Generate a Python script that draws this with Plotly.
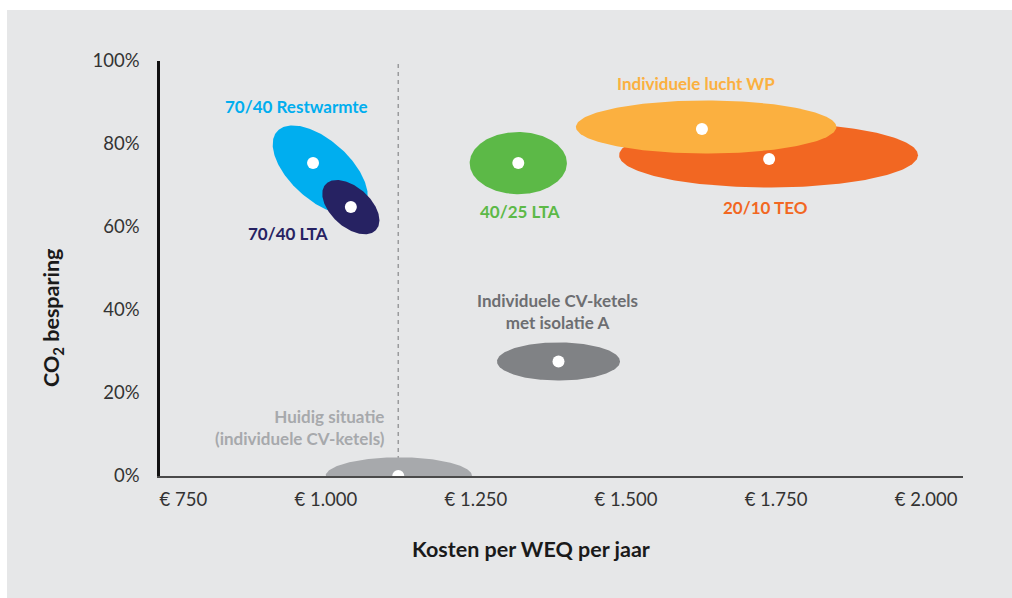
import numpy as np
import plotly.graph_objects as go

# ---------------- data ----------------
names = ["Huidig situatie", "Individuele CV-ketels met isolatie A", "40/25 LTA",
         "20/10 TEO", "Individuele lucht WP", "70/40 Restwarmte", "70/40 LTA"]
dot_cost = [1067, 1334, 1267, 1685, 1573, 925, 988]
dot_co2 = [0.0, 0.276, 0.754, 0.764, 0.836, 0.754, 0.648]
ell_cost = [1068, 1334, 1267, 1684, 1580, 937, 988]
ell_co2 = [0.0, 0.276, 0.754, 0.773, 0.841, 0.737, 0.648]
spread_cost = [122, 102.5, 81, 249, 217, 96.7, 56.7]
spread_co2 = [0.045, 0.046, 0.075, 0.078, 0.064, 0.072, 0.048]
tilt_deg = [0, 0, 0, 0, 0, -42, -42]
colors = ["#a7a9ac", "#808285", "#5cb947", "#f26722", "#fbb040", "#00aeef", "#262262"]

x_tickvals = [750, 1000, 1250, 1500, 1750, 2000]
x_ticktext = ["€ 750", "€ 1.000", "€ 1.250", "€ 1.500", "€ 1.750", "€ 2.000"]
y_tickvals = [0, 0.2, 0.4, 0.6, 0.8, 1.0]
reference_cost = dot_cost[0]

# ---------------- layout constants ----------------
OFF = 0                       # page body margin (removed via post_script)
W, H = 1012 - OFF, 598 - OFF
ML, MR, MT, MB = 160 - OFF, 49, 61 - OFF, 122
PW, PH = W - ML - MR, H - MT - MB
X_RANGE = [670, 2008]
Y_RANGE = [0, 1.0]
PX_X = PW / (X_RANGE[1] - X_RANGE[0])
PX_Y = PH / (Y_RANGE[1] - Y_RANGE[0])
FONT = "Lato, 'Open Sans', sans-serif"


def px_to_paper(px, py):
    """absolute screen pixel -> paper coords"""
    return (px - OFF - ML) / PW, (H - MB - (py - OFF)) / PH


def ellipse(cx, cy, rx, ry, tilt):
    t = np.linspace(0, 2 * np.pi, 240)
    u = rx * PX_X * np.cos(t)
    w = ry * PX_Y * np.sin(t)
    th = np.deg2rad(tilt)
    ur = u * np.cos(th) - w * np.sin(th)
    wr = u * np.sin(th) + w * np.cos(th)
    return cx + ur / PX_X, cy + wr / PX_Y


fig = go.Figure()
for i in range(len(names)):
    ex, ey = ellipse(ell_cost[i], ell_co2[i], spread_cost[i], spread_co2[i], tilt_deg[i])
    fig.add_trace(go.Scatter(x=ex, y=ey, mode="lines", fill="toself",
                             fillcolor=colors[i], line=dict(width=0),
                             hoverinfo="skip", showlegend=False))

fig.add_trace(go.Scatter(x=dot_cost, y=dot_co2, mode="markers",
                         marker=dict(size=12, color="white"),
                         text=names, hoverinfo="text", showlegend=False))

# background panel and dashed reference line
px0, py1 = px_to_paper(7, 10)
fig.add_shape(type="rect", xref="paper", yref="paper",
              x0=px0, x1=1.2, y0=-0.5, y1=py1,
              fillcolor="#e6e7e8", line=dict(width=0), layer="below")
fig.add_shape(type="line", xref="x", yref="y", x0=reference_cost, x1=reference_cost,
              y0=0, y1=1.0, line=dict(color="#9a9b9d", width=1.5, dash="4px,4px"),
              layer="below")

LBL = 17
labels = [
    (897, 0.89, "<b>70/40 Restwarmte</b>", "#00aeef", "center"),
    (884, 0.585, "<b>70/40 LTA</b>", "#262262", "center"),
    (1270, 0.638, "<b>40/25 LTA</b>", "#5cb947", "center"),
    (1563, 0.945, "<b>Individuele lucht WP</b>", "#fbb040", "center"),
    (1679, 0.648, "<b>20/10 TEO</b>", "#f26722", "center"),
    (1333, 0.397, "<b>Individuele CV-ketels<br>met isolatie A</b>", "#6d6e71", "center"),
    (1048, 0.117, "<b>Huidig situatie<br>(individuele CV-ketels)</b>", "#a7a9ac", "right"),
]
for x, y, txt, col, al in labels:
    fig.add_annotation(x=x, y=y, xref="x", yref="y", text=txt, showarrow=False,
                       font=dict(family=FONT, size=LBL, color=col),
                       xanchor=al, align=al, yanchor="middle")

tx, ty = px_to_paper(530.5, 549)
fig.add_annotation(xref="paper", yref="paper", x=tx, y=ty,
                   text="<b>Kosten per WEQ per jaar</b>", showarrow=False,
                   font=dict(family=FONT, size=21.5, color="#1a1a1a"),
                   xanchor="center", yanchor="middle")
tx, ty = px_to_paper(52, 318)
fig.add_annotation(xref="paper", yref="paper", x=tx, y=ty,
                   text="<b>CO<sub>2</sub> besparing</b>", showarrow=False,
                   textangle=-90,
                   font=dict(family=FONT, size=21.5, color="#1a1a1a"),
                   xanchor="center", yanchor="middle")

fig.update_layout(
    width=W, height=H,
    margin=dict(l=ML, r=MR, t=MT, b=MB),
    paper_bgcolor="white", plot_bgcolor="rgba(0,0,0,0)",
    font=dict(family=FONT, color="#333333"),
    showlegend=False,
)
fig.update_xaxes(range=X_RANGE, tickvals=x_tickvals, ticktext=x_ticktext,
                 ticklabelposition="outside left", showgrid=False, zeroline=False,
                 showline=True, linecolor="#4a4a4a", linewidth=1.5,
                 tickfont=dict(family=FONT, size=18.5, color="#333333"),
                 ticks="", ticklabelstandoff=6)
fig.update_yaxes(range=Y_RANGE, tickvals=y_tickvals, tickformat=".0%",
                 showgrid=False, zeroline=False,
                 showline=True, linecolor="#111111", linewidth=2.5,
                 tickfont=dict(family=FONT, size=18.5, color="#333333"),
                 ticks="", ticklabelstandoff=14)

fig.write_html("out.html",
               config={"displayModeBar": False},
               post_script="document.body.style.margin='0';"
                           "document.body.style.overflow='hidden';")
